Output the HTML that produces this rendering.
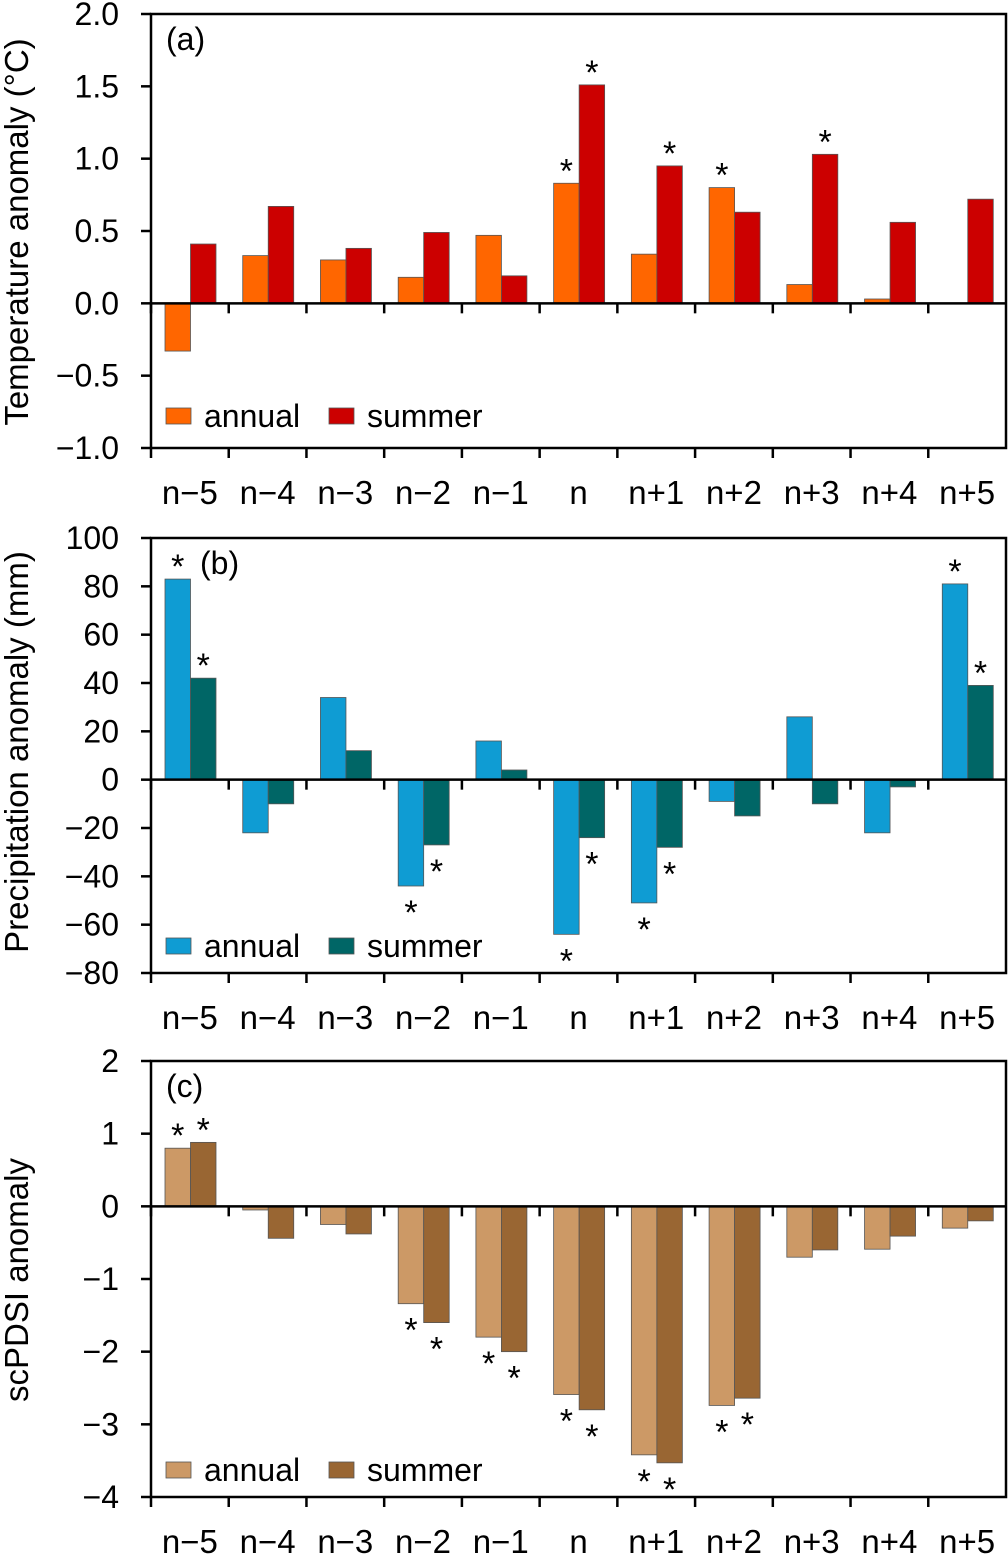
<!DOCTYPE html>
<html><head><meta charset="utf-8"><style>
body{margin:0;background:#fff}
svg{display:block;font-family:"Liberation Sans",sans-serif}
</style></head><body>
<svg id="chart" width="1008" height="1554" viewBox="0 0 1008 1554"></svg>
<script>
const categories=["n\u22125","n\u22124","n\u22123","n\u22122","n\u22121","n","n+1","n+2","n+3","n+4","n+5"];
const tempAnnual=[-0.33,0.33,0.30,0.18,0.47,0.83,0.34,0.80,0.13,0.03,0];
const tempSummer=[0.41,0.67,0.38,0.49,0.19,1.51,0.95,0.63,1.03,0.56,0.72];
const tempAnnualSig=[0,0,0,0,0,1,0,1,0,0,0];
const tempSummerSig=[0,0,0,0,0,1,1,0,1,0,0];
const tempTicks=["2.0","1.5","1.0","0.5","0.0","\u22120.5","\u22121.0"];
const tempTickVals=[2,1.5,1,0.5,0,-0.5,-1];
const precAnnual=[83,-22,34,-44,16,-64,-51,-9,26,-22,81];
const precSummer=[42,-10,12,-27,4,-24,-28,-15,-10,-3,39];
const precAnnualSig=[1,0,0,1,0,1,1,0,0,0,1];
const precSummerSig=[1,0,0,1,0,1,1,0,0,0,1];
const precTicks=["100","80","60","40","20","0","\u221220","\u221240","\u221260","\u221280"];
const precTickVals=[100,80,60,40,20,0,-20,-40,-60,-80];
const pdsiAnnual=[0.80,-0.05,-0.25,-1.34,-1.80,-2.59,-3.42,-2.74,-0.70,-0.59,-0.30];
const pdsiSummer=[0.88,-0.44,-0.38,-1.60,-2.00,-2.80,-3.53,-2.64,-0.60,-0.41,-0.20];
const pdsiAnnualSig=[1,0,0,1,1,1,1,1,0,0,0];
const pdsiSummerSig=[1,0,0,1,1,1,1,1,0,0,0];
const pdsiTicks=["2","1","0","\u22121","\u22122","\u22123","\u22124"];
const pdsiTickVals=[2,1,0,-1,-2,-3,-4];

const NS="http://www.w3.org/2000/svg";
const svg=document.getElementById('chart');
function mk(tag,attrs,parent,txt){const e=document.createElementNS(NS,tag);for(const k in attrs)e.setAttribute(k,attrs[k]);if(txt!==undefined)e.textContent=txt;(parent||svg).appendChild(e);return e;}

const X0=151,X1=1006,catW=(X1-X0)/11,barW=25.5,barOff=14;
function panel(o){
  const g=mk('g',{});
  
  
  const y=v=>o.yTop+(o.max-v)/(o.max-o.min)*(o.yBot-o.yTop);
  const y0=y(0);
  [[o.a,o.ca,o.sa,'annual'],[o.s,o.cs,o.ss,'summer']].forEach(([vals,col,sig,lbl],si)=>{
    vals.forEach((v,i)=>{
      const x=X0+i*catW+barOff+si*barW;
      if(v!==0){
        const r=mk('rect',{x:x,y:Math.min(y(v),y0),width:barW,height:Math.abs(y(v)-y0),fill:col,stroke:'#555','stroke-width':0.8},g);
        
        
      }
      if(sig[i]){
        const cy=v>=0?y(v)-18:y(v)+21;
        const t=mk('text',{x:x+barW/2,y:cy+17,'font-size':34,'text-anchor':'middle'},g,'*');
        
        
      }
    });
  });
  const fr=mk('rect',{x:X0,y:o.yTop,width:X1-X0,height:o.yBot-o.yTop,fill:'none',stroke:'#000','stroke-width':2.5},g);
  
  
  mk('line',{x1:X0,x2:X1,y1:y0,y2:y0,stroke:'#000','stroke-width':2.5},g);
  for(let i=0;i<11;i++){
    const x=X0+i*catW;
    mk('line',{x1:x,x2:x,y1:y0,y2:y0+10,stroke:'#000','stroke-width':2.5},g);
    mk('line',{x1:x,x2:x,y1:o.yBot,y2:o.yBot+10,stroke:'#000','stroke-width':2.5},g);
    const t=mk('text',{x:x+catW/2,y:o.yBot+56,'font-size':33,'text-anchor':'middle'},g,categories[i]);
    
    
  }
  o.tv.forEach((v,i)=>{
    mk('line',{x1:X0-10,x2:X0,y1:y(v),y2:y(v),stroke:'#000','stroke-width':2.5},g);
    const t=mk('text',{x:X0-32,y:y(v)+11,'font-size':32,'text-anchor':'end'},g,o.tl[i]);
    
    
  });
  const yt=mk('text',{x:0,y:0,'font-size':33,'text-anchor':'middle',transform:`translate(28,${o.titleY}) rotate(-90)`},g,o.title);
  
  
  const pl=mk('text',{x:o.lx,y:o.yTop+36,'font-size':32},g,o.label);
  
  
  const ly=o.legY;
  [[166,o.ca,'annual'],[329,o.cs,'summer']].forEach(([lx,c,t])=>{
    const sw=mk('rect',{x:lx,y:ly-8,width:25,height:16,fill:c,stroke:'#555','stroke-width':0.8},g);
    
    
    const tx=mk('text',{x:lx+38,y:ly+11,'font-size':32},g,t);
    
    
  });
}
panel({name:'panel-a-temperature',yTop:14,yBot:448,max:2,min:-1,a:tempAnnual,s:tempSummer,sa:tempAnnualSig,ss:tempSummerSig,ca:'#FF6600',cs:'#CC0000',tv:tempTickVals,tl:tempTicks,title:'Temperature anomaly (°C)',titleY:232,label:'(a)',lx:166,legY:416});
panel({name:'panel-b-precipitation',yTop:538,yBot:973,max:100,min:-80,a:precAnnual,s:precSummer,sa:precAnnualSig,ss:precSummerSig,ca:'#0F9CD3',cs:'#006666',tv:precTickVals,tl:precTicks,title:'Precipitation anomaly (mm)',titleY:752,label:'(b)',lx:200,legY:946});
panel({name:'panel-c-scpdsi',yTop:1061,yBot:1497,max:2,min:-4,a:pdsiAnnual,s:pdsiSummer,sa:pdsiAnnualSig,ss:pdsiSummerSig,ca:'#CC9966',cs:'#996633',tv:pdsiTickVals,tl:pdsiTicks,title:'scPDSI anomaly',titleY:1280,label:'(c)',lx:166,legY:1470});
</script>
</body></html>
